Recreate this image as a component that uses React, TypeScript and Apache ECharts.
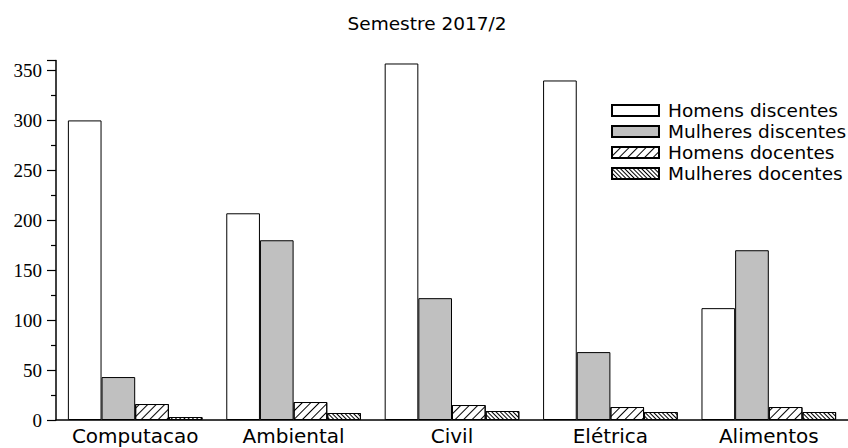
import React, { useEffect, useRef } from "react";
import * as echarts from "echarts";

// Cursos e contagens por grupo (semestre 2017/2)
const categories = ["Computacao", "Ambiental", "Civil", "Elétrica", "Alimentos"];
const homensDiscentes = [300, 207, 357, 340, 112];
const mulheresDiscentes = [43, 180, 122, 68, 170];
const homensDocentes = [16, 18, 15, 13, 13];
const mulheresDocentes = [3, 7, 9, 8, 8];
const seriesNames = [
  "Homens discentes",
  "Mulheres discentes",
  "Homens docentes",
  "Mulheres docentes",
];

const hatch = (gap: number, rotation: number) => ({
  symbol: "rect",
  symbolSize: 1,
  color: "#000",
  backgroundColor: "#fff",
  dashArrayX: [1, 0],
  dashArrayY: [1, gap],
  rotation,
});

export default function App() {
  const ref = useRef<HTMLDivElement>(null);

  useEffect(() => {
    if (!ref.current) return;
    const chart = echarts.init(ref.current, null, { renderer: "svg" });
    const border = { borderColor: "#000", borderWidth: 1 };
    const bar = (name: string, data: number[], itemStyle: any) => ({
      name,
      type: "bar",
      data,
      barGap: "0%",
      barCategoryGap: "15%",
      itemStyle: { ...border, ...itemStyle },
    });

    chart.setOption({
      animation: false,
      backgroundColor: "#fff",
      title: {
        text: "Semestre 2017/2",
        left: 427,
        textAlign: "center",
        top: 14,
        padding: 0,
        textStyle: {
          fontFamily: "DejaVu Sans",
          fontSize: 18.5,
          fontWeight: "normal",
          color: "#000",
        },
      },
      legend: {
        orient: "vertical",
        left: 611,
        top: 101,
        padding: 0,
        itemWidth: 47,
        itemHeight: 11,
        itemGap: 2,
        icon: "rect",
        data: seriesNames,
        textStyle: {
          fontFamily: "DejaVu Sans",
          fontSize: 18.5,
          lineHeight: 18,
          color: "#000",
          padding: [0, 0, 0, 4],
        },
      },
      grid: { left: 56, top: 60.5, width: 797.5, height: 359.5 },
      xAxis: {
        type: "category",
        data: categories,
        axisLine: { lineStyle: { color: "#000", width: 1.5 } },
        axisTick: { alignWithLabel: true, length: 8, lineStyle: { color: "#000", width: 1.5 } },
        axisLabel: {
          interval: 0,
          hideOverlap: false,
          fontFamily: "DejaVu Sans",
          fontSize: 20,
          color: "#000",
          margin: 6,
        },
      },
      yAxis: {
        type: "value",
        min: 0,
        max: 360,
        interval: 50,
        splitLine: { show: false },
        axisLine: { show: true, lineStyle: { color: "#000", width: 1.5 } },
        axisTick: { show: true, length: 9, lineStyle: { color: "#000", width: 1.2 } },
        minorTick: { show: true, splitNumber: 2, length: 5, lineStyle: { color: "#000", width: 1.2 } },
        axisLabel: {
          fontFamily: "Liberation Serif",
          fontSize: 19,
          color: "#000",
          margin: 14,
          showMaxLabel: false,
        },
      },
      series: [
        bar(seriesNames[0], homensDiscentes, { color: "#fff" }),
        bar(seriesNames[1], mulheresDiscentes, { color: "#c0c0c0" }),
        bar(seriesNames[2], homensDocentes, { color: "#fff", decal: hatch(5, -Math.PI / 4) }),
        bar(seriesNames[3], mulheresDocentes, { color: "#fff", decal: hatch(2, Math.PI / 4) }),
      ],
    });

    return () => chart.dispose();
  }, []);

  return <div ref={ref} style={{ width: 848, height: 448, position: "absolute", left: 0, top: 0 }} />;
}
